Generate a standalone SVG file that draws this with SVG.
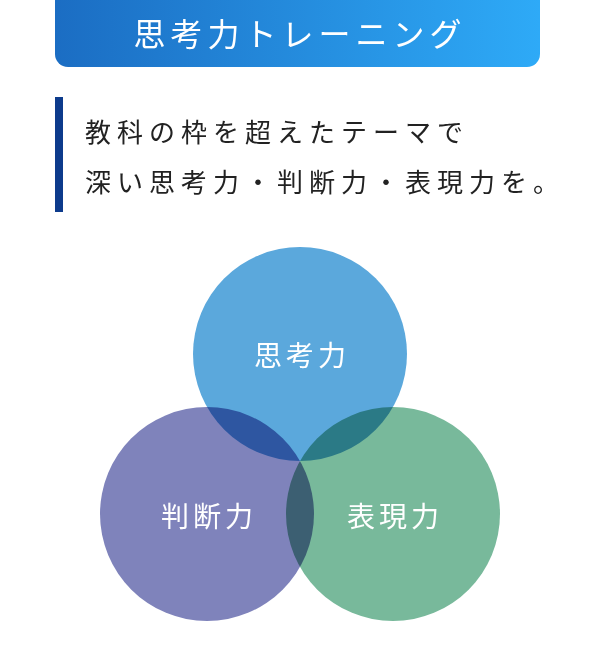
<svg xmlns="http://www.w3.org/2000/svg" width="600" height="650" viewBox="0 0 600 650">
<defs>
<linearGradient id="hg" x1="0" y1="0" x2="1" y2="0">
<stop offset="0" stop-color="#1b6dc3"/><stop offset="1" stop-color="#2eaaf7"/>
</linearGradient>
</defs>
<style>
text{font-family:"Noto Sans CJK JP","Noto Sans",sans-serif}
.c{mix-blend-mode:multiply}
.l{fill:#fff;font-size:28px;letter-spacing:4px;text-anchor:middle}
.b{fill:#222;font-size:26px;letter-spacing:6px}
</style>
<rect width="600" height="650" fill="#fff"/>
<g id="header">
<rect x="55" y="-12" width="485" height="79" rx="13" fill="url(#hg)"/>
<text x="300" y="46" fill="#fff" font-size="32" letter-spacing="5" text-anchor="middle">思考力トレーニング</text>
</g>
<g id="intro">
<rect x="55" y="97" width="8" height="115" fill="#0d3b8c"/>
<text class="b" x="85" y="142">教科の枠を超えたテーマで</text>
<text class="b" x="85" y="192">深い思考力・判断力・表現力を。</text>
</g>
<g id="venn" style="isolation:isolate">
<g id="n-shikou"><circle class="c" cx="300" cy="354" r="107" fill="#5ba8dc"/></g>
<g id="n-handan"><circle class="c" cx="207" cy="514" r="107" fill="#7f83bb"/></g>
<g id="n-hyougen"><circle class="c" cx="393" cy="514" r="107" fill="#78b99b"/></g>
</g>
<g id="labels">
<text class="l" x="302" y="366">思考力</text>
<text class="l" x="209" y="527">判断力</text>
<text class="l" x="395" y="527">表現力</text>
</g>
</svg>
